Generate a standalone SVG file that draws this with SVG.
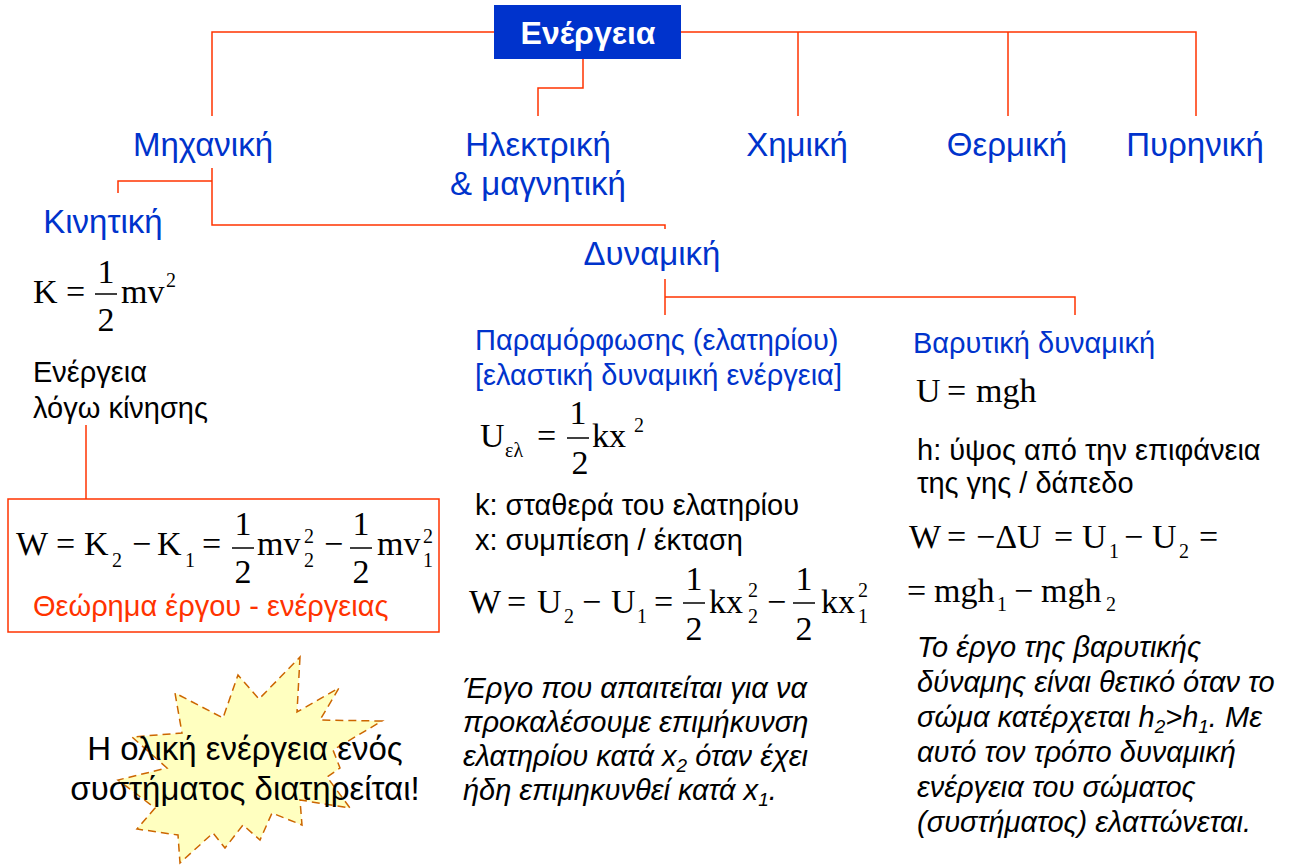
<svg xmlns="http://www.w3.org/2000/svg" width="1289" height="865" viewBox="0 0 1289 865">
<style>
.cat{font-family:"Liberation Sans",Arial,sans-serif;font-size:33px;fill:#0033CC}
.sub{font-family:"Liberation Sans",Arial,sans-serif;font-size:29px;fill:#0033CC}
.txt{font-family:"Liberation Sans",Arial,sans-serif;font-size:29px;fill:#000}
.it{font-family:"Liberation Sans",Arial,sans-serif;font-size:29px;font-style:italic;fill:#000}
.m{font-family:"Liberation Serif","Times New Roman",serif;font-size:34px;fill:#000}
.ms{font-family:"Liberation Serif","Times New Roman",serif;font-size:20px;fill:#000}
.ln{stroke:#FF3300;stroke-width:1.5;fill:none}
.bar{stroke:#000;stroke-width:1.5}
</style>
<rect width="1289" height="865" fill="#fff"/>
<g id="connectors">
<polyline class="ln" points="494,32 212,32 212,116"/>
<polyline class="ln" points="583,59 583,88 538,88 538,116"/>
<polyline class="ln" points="681,32 1196,32 1196,116"/>
<line class="ln" x1="798" y1="32" x2="798" y2="116"/>
<line class="ln" x1="1008" y1="32" x2="1008" y2="116"/>
<polyline class="ln" points="212,168 212,225 665,225 665,229"/>
<polyline class="ln" points="212,181 118,181 118,193"/>
<line class="ln" x1="665" y1="279" x2="665" y2="315"/>
<polyline class="ln" points="665,297 1075,297 1075,315"/>
<line class="ln" x1="86" y1="425" x2="86" y2="499"/>
</g>
<g id="energeia">
<rect x="494" y="5" width="187" height="54" fill="#0033CC"/>
<text x="588" y="44" text-anchor="middle" font-family="Liberation Sans,Arial,sans-serif" font-size="32" font-weight="bold" fill="#fff">Ενέργεια</text>
</g>
<g id="michaniki"><text class="cat" x="203" y="156" text-anchor="middle">Μηχανική</text></g>
<g id="ilektriki"><text class="cat" x="538" y="156" text-anchor="middle">Ηλεκτρική</text><text class="cat" x="538" y="195" text-anchor="middle">&amp; μαγνητική</text></g>
<g id="chimiki"><text class="cat" x="797" y="156" text-anchor="middle">Χημική</text></g>
<g id="thermiki"><text class="cat" x="1007" y="156" text-anchor="middle">Θερμική</text></g>
<g id="pyriniki"><text class="cat" x="1195" y="156" text-anchor="middle">Πυρηνική</text></g>
<g id="kinitiki">
<text class="cat" x="103" y="233" text-anchor="middle">Κινητική</text>
<text class="m" x="33" y="303">K</text><text class="m" x="66" y="303">=</text>
<line class="bar" x1="95" y1="294" x2="117" y2="294"/>
<text class="m" x="106" y="283" text-anchor="middle">1</text><text class="m" x="106" y="331" text-anchor="middle">2</text>
<text class="m" x="121" y="303">mv</text><text class="ms" x="166" y="287">2</text>
<text class="txt" x="33" y="382">Ενέργεια</text>
<text class="txt" x="33" y="418">λόγω κίνησης</text>
</g>
<g id="theorima">
<rect x="8" y="499" width="431" height="133" fill="none" stroke="#FF3300" stroke-width="1.5"/>
<text class="m" x="16" y="555">W</text><text class="m" x="56" y="555">=</text>
<text class="m" x="84" y="555">K</text><text class="ms" x="112" y="567">2</text>
<text class="m" x="132" y="555">−</text>
<text class="m" x="157" y="555">K</text><text class="ms" x="185" y="567">1</text>
<text class="m" x="202" y="555">=</text>
<line class="bar" x1="232" y1="548" x2="254" y2="548"/>
<text class="m" x="243" y="535" text-anchor="middle">1</text><text class="m" x="243" y="583" text-anchor="middle">2</text>
<text class="m" x="257" y="555">mv</text><text class="ms" x="304" y="543">2</text><text class="ms" x="304" y="567">2</text>
<text class="m" x="324" y="555">−</text>
<line class="bar" x1="350" y1="548" x2="372" y2="548"/>
<text class="m" x="361" y="535" text-anchor="middle">1</text><text class="m" x="361" y="583" text-anchor="middle">2</text>
<text class="m" x="377" y="555">mv</text><text class="ms" x="423" y="543">2</text><text class="ms" x="423" y="567">1</text>
<text x="33" y="616" font-family="Liberation Sans,Arial,sans-serif" font-size="29" fill="#FF3300">Θεώρημα έργου - ενέργειας</text>
</g>
<g id="dynamiki"><text class="cat" x="652" y="265" text-anchor="middle">Δυναμική</text></g>
<g id="paramorfosis">
<text class="sub" x="475" y="350">Παραμόρφωσης (ελατηρίου)</text>
<text class="sub" x="475" y="385">[ελαστική δυναμική ενέργεια]</text>
<text class="m" x="480" y="447">U</text><text class="ms" x="505" y="457" font-size="17">ελ</text>
<text class="m" x="537" y="447">=</text>
<line class="bar" x1="567" y1="438" x2="589" y2="438"/>
<text class="m" x="578" y="424" text-anchor="middle">1</text><text class="m" x="580" y="474" text-anchor="middle">2</text>
<text class="m" x="592" y="447">kx</text><text class="ms" x="634" y="432">2</text>
<text class="txt" x="475" y="515">k: σταθερά του ελατηρίου</text>
<text class="txt" x="475" y="550">x: συμπίεση / έκταση</text>
<text class="m" x="469" y="613">W</text><text class="m" x="507" y="613">=</text>
<text class="m" x="537" y="613">U</text><text class="ms" x="564" y="623">2</text>
<text class="m" x="582" y="613">−</text>
<text class="m" x="611" y="613">U</text><text class="ms" x="637" y="623">1</text>
<text class="m" x="654" y="613">=</text>
<line class="bar" x1="683" y1="603" x2="705" y2="603"/>
<text class="m" x="694" y="590" text-anchor="middle">1</text><text class="m" x="694" y="640" text-anchor="middle">2</text>
<text class="m" x="709" y="613">kx</text><text class="ms" x="748" y="597">2</text><text class="ms" x="748" y="623">2</text>
<text class="m" x="767" y="613">−</text>
<line class="bar" x1="793" y1="603" x2="815" y2="603"/>
<text class="m" x="804" y="590" text-anchor="middle">1</text><text class="m" x="804" y="640" text-anchor="middle">2</text>
<text class="m" x="821" y="613">kx</text><text class="ms" x="858" y="597">2</text><text class="ms" x="858" y="623">1</text>
<text class="it" x="463" y="698">Έργο που απαιτείται για να</text>
<text class="it" x="463" y="732">προκαλέσουμε επιμήκυνση</text>
<text class="it" x="463" y="766">ελατηρίου κατά x<tspan font-size="19" dy="6">2</tspan><tspan dy="-6"> όταν έχει</tspan></text>
<text class="it" x="463" y="800">ήδη επιμηκυνθεί κατά x<tspan font-size="19" dy="6">1</tspan><tspan dy="-6">.</tspan></text>
</g>
<g id="varytiki">
<text class="sub" x="913" y="353">Βαρυτική δυναμική</text>
<text class="m" x="916" y="402">U</text><text class="m" x="947" y="402">=</text><text class="m" x="976" y="402">mgh</text>
<text class="txt" x="917" y="460">h: ύψος από την επιφάνεια</text>
<text class="txt" x="917" y="493">της γης / δάπεδο</text>
<text class="m" x="909" y="548">W</text><text class="m" x="947" y="548">=</text><text class="m" x="976" y="548">−ΔU</text>
<text class="m" x="1054" y="548">=</text>
<text class="m" x="1082" y="548">U</text><text class="ms" x="1109" y="558">1</text>
<text class="m" x="1124" y="548">−</text>
<text class="m" x="1152" y="548">U</text><text class="ms" x="1179" y="558">2</text>
<text class="m" x="1199" y="548">=</text>
<text class="m" x="907" y="602">=</text><text class="m" x="934" y="602">mgh</text><text class="ms" x="997" y="611">1</text>
<text class="m" x="1014" y="602">−</text><text class="m" x="1041" y="602">mgh</text><text class="ms" x="1106" y="611">2</text>
<text class="it" x="917" y="657">Το έργο της βαρυτικής</text>
<text class="it" x="917" y="692">δύναμης είναι θετικό όταν το</text>
<text class="it" x="917" y="727">σώμα κατέρχεται h<tspan font-size="19" dy="6">2</tspan><tspan dy="-6">&gt;h</tspan><tspan font-size="19" dy="6">1</tspan><tspan dy="-6">. Με</tspan></text>
<text class="it" x="917" y="762">αυτό τον τρόπο δυναμική</text>
<text class="it" x="917" y="797">ενέργεια του σώματος</text>
<text class="it" x="917" y="832">(συστήματος) ελαττώνεται.</text>
</g>
<g id="starburst">
<polygon points="300,657 297,712 339,688 320,720 382,721 333,750 340,768 327,777 350,808 300,800 302,825 272,813 260,840 243,825 225,848 213,833 180,863 178,835 137,829 155,808 118,780 167,768 132,737 182,733 175,693 223,718 238,675 259,699" fill="#FFFFC0" stroke="#CC6600" stroke-width="1.5" stroke-dasharray="8,5"/>
<text x="245" y="760" text-anchor="middle" font-family="Liberation Sans,Arial,sans-serif" font-size="33" fill="#000">Η ολική ενέργεια ενός</text>
<text x="245" y="800" text-anchor="middle" font-family="Liberation Sans,Arial,sans-serif" font-size="33" fill="#000">συστήματος διατηρείται!</text>
</g>
</svg>
